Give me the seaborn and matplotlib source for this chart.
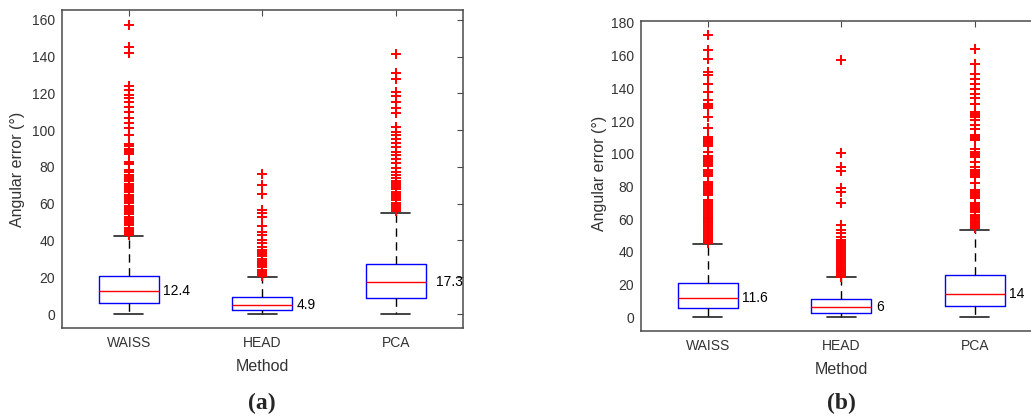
import pandas as pd
import matplotlib.pyplot as plt
import seaborn as sns

METHODS = ["WAISS", "HEAD", "PCA"]

# panel (a)
A_MEDIAN = [12.4, 4.9, 17.3]
A_Q1 = [6.1, 2.2, 8.5]
A_Q3 = [20.5, 9.3, 27.0]
A_LOW = [0.0, 0.0, 0.0]
A_HIGH = [42.4, 20.3, 54.8]
A_OUT_WAISS = [157.3, 145.5, 141.9, 124.1, 121.9, 119.2, 117.4, 115.6, 112.8, 110.1,
               106.5, 103.8, 101.0, 97.4, 92.5, 91.2, 90.0, 89.1, 88.0, 86.9, 82.7,
               81.5, 78.2, 77.0, 75.8, 74.6, 73.4, 72.2, 71.0, 69.8, 68.6, 67.4, 66.2,
               65.0, 63.8, 62.6, 61.4, 60.2, 59.0, 57.8, 56.6, 55.4, 54.2, 53.0, 51.8,
               50.6, 49.4, 48.2, 47.0, 45.8, 44.6, 43.4, 42.8]
A_OUT_HEAD = [76.2, 70.2, 65.1, 56.6, 54.8, 52.6, 47.9, 44.8, 43.0, 40.3, 38.5, 36.3,
              35.0, 33.8, 32.6, 31.4, 30.2, 29.0, 27.8, 26.6, 25.4, 24.2, 23.0, 21.8,
              20.8]
A_OUT_PCA = [141.5, 131.0, 127.7, 121.0, 118.6, 115.6, 111.9, 109.2, 101.6, 99.2, 97.4,
             95.0, 92.9, 90.7, 88.3, 86.5, 84.2, 82.0, 79.3, 77.4, 75.6, 73.8, 72.6,
             71.4, 70.2, 69.0, 67.8, 66.6, 65.4, 64.2, 63.0, 61.8, 60.6, 59.4, 58.2,
             57.0, 55.8]

# panel (b)
B_MEDIAN = [11.6, 6.0, 14.0]
B_Q1 = [5.5, 2.8, 6.9]
B_Q3 = [21.1, 11.4, 25.6]
B_LOW = [0.0, 0.0, 0.0]
B_HIGH = [44.6, 24.4, 53.3]
B_OUT_WAISS = [172.4, 163.3, 158.2, 150.0, 148.0, 142.9, 137.8, 132.7, 130.5, 129.0,
               127.7, 122.5, 115.5, 110.5, 109.3, 108.1, 106.9, 105.7, 104.5, 101.0,
               98.5, 97.3, 96.1, 94.9, 93.7, 92.5, 90.0, 88.8, 87.6, 86.4, 83.0, 81.8,
               80.6, 79.4, 78.2, 77.0, 75.8, 74.6, 71.8, 70.6, 69.4, 68.2, 67.0, 65.8,
               64.6, 63.4, 62.2, 61.0, 59.8, 58.6, 57.4, 56.2, 55.0, 53.8, 52.6, 51.4,
               50.2, 49.0, 47.8, 46.6, 45.4]
B_OUT_HEAD = [157.2, 100.6, 92.0, 89.6, 78.8, 76.7, 69.6, 56.4, 53.3, 51.3, 49.2, 47.2,
              46.0, 44.8, 43.6, 42.4, 41.2, 40.0, 38.8, 37.6, 36.4, 35.2, 34.0, 32.8,
              31.6, 30.4, 29.2, 28.0, 26.8, 25.6, 24.8]
B_OUT_PCA = [164.3, 155.2, 149.0, 146.0, 142.9, 139.9, 136.8, 133.8, 130.7, 125.6,
             124.5, 123.5, 122.5, 120.5, 117.5, 115.4, 111.4, 110.3, 109.3, 108.3,
             103.2, 101.2, 100.1, 99.1, 98.1, 95.1, 92.0, 90.0, 88.9, 87.9, 86.9, 85.9,
             81.9, 77.8, 76.8, 75.7, 74.7, 73.7, 72.7, 69.6, 68.6, 67.6, 66.5, 65.5,
             64.5, 62.5, 61.5, 60.5, 59.4, 58.4, 57.4, 56.4, 55.4, 54.4]

sns.set_style("white")
plt.rcParams["font.family"] = ["Liberation Sans", "DejaVu Sans"]

AXCOL = "#4a4a4a"
TXTCOL = "#333333"


def draw_panel(ax, med, q1, q3, low, high, outliers, ylim, yticks, label_dx):
    stats = []
    for i, m in enumerate(METHODS):
        stats.append(dict(label=m, med=med[i], q1=q1[i], q3=q3[i],
                          whislo=low[i], whishi=high[i], fliers=[]))
    ax.bxp(stats, positions=[1, 2, 3], widths=0.45, capwidths=0.22,
           showfliers=False,
           boxprops=dict(color="blue", lw=1),
           medianprops=dict(color="red", lw=1),
           whiskerprops=dict(color="black", lw=1, linestyle=(0, (6, 4))),
           capprops=dict(color="#222222", lw=1.2))

    # outliers
    pos, val = [], []
    for i, vals in enumerate(outliers):
        pos += [i + 1] * len(vals)
        val += vals
    df = pd.DataFrame({"pos": pos, "val": val})
    sns.scatterplot(data=df, x="pos", y="val", marker="+", color="red", s=48,
                    linewidth=1.4, legend=False, ax=ax, zorder=3)

    # median labels
    for i, m in enumerate(med):
        ax.text(i + 1 + label_dx[i], m, f"{m:g}", va="center", ha="left",
                fontsize=10, color="black", clip_on=True)

    ax.set_xlim(0.5, 3.5)
    ax.set_ylim(*ylim)
    ax.set_xticks([1, 2, 3])
    ax.set_xticklabels(METHODS)
    ax.set_yticks(yticks)
    ax.tick_params(direction="in", top=True, right=True, length=4, width=0.8,
                   color=AXCOL, labelcolor=TXTCOL, labelsize=10)
    ax.tick_params(axis="x", pad=6)
    ax.tick_params(axis="y", pad=5)
    for sp in ax.spines.values():
        sp.set_color(AXCOL)
        sp.set_linewidth(1.1)
    ax.set_xlabel("Method", fontsize=11.5, color=TXTCOL)
    ax.set_ylabel("Angular error (°)", fontsize=11.5, color=TXTCOL)


fig = plt.figure(figsize=(10.31, 4.19), dpi=100)
ax_a = fig.add_axes([0.0601, 0.2172, 0.3885, 0.759])
ax_b = fig.add_axes([0.6217, 0.2100, 0.3885, 0.7399])

draw_panel(ax_a, A_MEDIAN, A_Q1, A_Q3, A_LOW, A_HIGH,
           [A_OUT_WAISS, A_OUT_HEAD, A_OUT_PCA], (-7.6, 165.4),
           range(0, 161, 20), [0.255, 0.255, 0.30])
draw_panel(ax_b, B_MEDIAN, B_Q1, B_Q3, B_LOW, B_HIGH,
           [B_OUT_WAISS, B_OUT_HEAD, B_OUT_PCA], (-8.4, 181.2),
           range(0, 181, 20), [0.26, 0.26, 0.26])

ax_a.xaxis.set_label_coords(0.5, -0.098)
ax_b.xaxis.set_label_coords(0.5, -0.10)
ax_a.yaxis.set_label_coords(-0.092, 0.5)
ax_b.yaxis.set_label_coords(-0.085, 0.51)

fig.text(0.254, 0.036, "(a)", ha="center", va="center", fontsize=17,
         fontweight="bold", family="Liberation Serif")
fig.text(0.816, 0.036, "(b)", ha="center", va="center", fontsize=17,
         fontweight="bold", family="Liberation Serif")

fig.savefig("out.png", dpi=100)
